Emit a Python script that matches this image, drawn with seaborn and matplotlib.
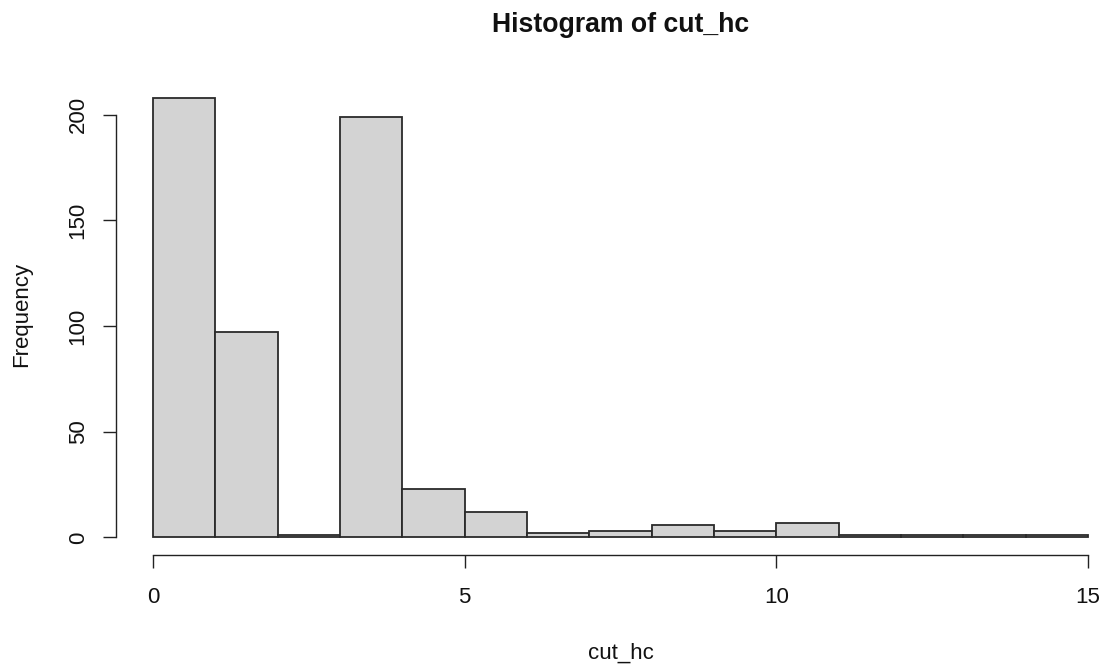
import numpy as np
import pandas as pd
import matplotlib
matplotlib.use("Agg")
import matplotlib.pyplot as plt
import seaborn as sns

# Histogram bins (unit width) and their counts
bin_edges = [0, 1, 2, 3, 4, 5, 6, 7, 8, 9, 10, 11, 12, 13, 14, 15]
counts = [208, 97, 1, 199, 23, 12, 2, 3, 6, 3, 7, 1, 1, 1, 1]
x_ticks = [0, 5, 10, 15]
y_ticks = [0, 50, 100, 150, 200]

sns.set_theme(style="white")
plt.rcParams["font.family"] = ["Liberation Sans", "DejaVu Sans"]

W, H, DPI = 1103, 664, 100
fig = plt.figure(figsize=(W / DPI, H / DPI), dpi=DPI)

# plot region in pixels
left_px, right_px = 115.6, 1103.0
top_px, bottom_px = 80.4, 554.9
ax = fig.add_axes([left_px / W, 1 - bottom_px / H,
                   (right_px - left_px) / W, (bottom_px - top_px) / H])

centers = [(a + b) / 2 for a, b in zip(bin_edges[:-1], bin_edges[1:])]
df = pd.DataFrame({"cut_hc": centers, "n": counts})
sns.histplot(data=df, x="cut_hc", weights="n", bins=bin_edges, ax=ax,
             color="#D3D3D3", edgecolor="#2a2a2a", linewidth=1.3, alpha=1.0)

ax.set_xlim(-0.6, 15.24)
ax.set_ylim(-8.32, 216.32)

for s in ["top", "right"]:
    ax.spines[s].set_visible(False)
ax.spines["left"].set_bounds(0, 200)
ax.spines["bottom"].set_bounds(0, 15)
for s in ["left", "bottom"]:
    ax.spines[s].set_color("#222222")
    ax.spines[s].set_linewidth(1.0)

base = 16
ax.set_xticks(x_ticks)
ax.set_yticks(y_ticks)
ax.set_xticklabels([str(t) for t in x_ticks])
ax.set_yticklabels([str(t) for t in y_ticks], rotation=90, va="center")
ax.tick_params(axis="both", direction="out", length=9.4, width=1.0,
               color="#222222", labelsize=base, labelcolor="#111111")
ax.tick_params(axis="x", pad=14, bottom=True)
ax.tick_params(axis="y", pad=10, left=True)

ax.set_xlabel("")
ax.set_ylabel("")
fig.text(620.5 / W, 1 - 653 / H, "cut_hc", ha="center", va="center",
         fontsize=base, color="#111111")
fig.text(22 / W, 1 - 314 / H, "Frequency", ha="center", va="center",
         rotation=90, fontsize=base, color="#111111")
fig.text(620.5 / W, 1 - 25 / H, "Histogram of cut_hc", ha="center",
         va="center", fontsize=base * 1.2, fontweight="bold", color="#111111")

fig.savefig("out.png", dpi=DPI, facecolor="white")
